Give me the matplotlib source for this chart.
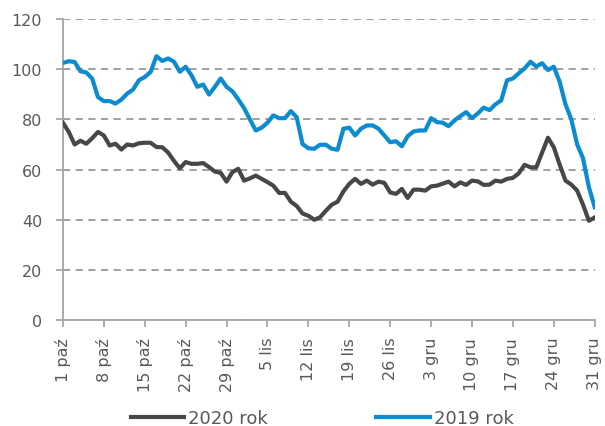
import numpy as np
import matplotlib
matplotlib.use('Agg')
import matplotlib.pyplot as plt

# daily values, 1 Oct .. 31 Dec
rok_2020 = [78.7, 75, 70, 71.5, 70.3, 72.5, 75, 73.6, 69.6, 70.3,
            68, 70, 69.6, 70.5, 70.7, 70.7, 69, 68.9, 66.8, 63.5,
            60.5, 63, 62.3, 62.3, 62.6, 61, 59.2, 58.7, 55.2, 59,
            60.3, 55.6, 56.5, 57.6, 56.3, 55, 53.6, 50.7, 50.7, 47.2,
            45.5, 42.5, 41.6, 40, 41, 43.6, 46, 47.2, 51.3, 54.3,
            56.3, 54.3, 55.6, 54, 55.2, 54.7, 50.9, 50.3, 52.3, 48.7,
            52, 52, 51.6, 53.3, 53.6, 54.4, 55.2, 53.3, 54.9, 53.9,
            55.6, 55.3, 53.9, 54, 55.6, 55.2, 56.3, 56.7, 58.5, 61.9,
            60.9, 60.9, 66.8, 72.7, 68.9, 62, 55.6, 54, 51.6, 46,
            39.6, 40.9]
rok_2019 = [102.5, 103.2, 102.9, 99.2, 98.7, 96.3, 88.9, 87.3, 87.3, 86.3,
            87.9, 90.3, 91.9, 95.6, 96.9, 98.9, 105.2, 103.3, 104.3, 103,
            99, 101, 97.6, 93, 93.9, 89.9, 93, 96.3, 93, 91.2,
            88, 84.5, 80, 75.6, 76.7, 78.7, 81.6, 80.5, 80.5, 83.3,
            80.9, 70.2, 68.5, 68.3, 69.9, 69.9, 68.3, 67.9, 76.3, 76.7,
            73.6, 76.3, 77.6, 77.6, 76.3, 73.6, 70.9, 71.3, 69.3, 73.3,
            75.2, 75.6, 75.6, 80.5, 78.9, 78.7, 77.3, 79.6, 81.3, 82.9,
            80.5, 82.4, 84.7, 83.7, 86, 87.6, 95.6, 96.3, 98.4, 100.3,
            103, 101.1, 102.4, 99.7, 101, 95, 86, 80, 70, 64.5,
            53, 45]
tick_labels = ['1 paź', '8 paź', '15 paź', '22 paź', '29 paź', '5 lis', '12 lis',
               '19 lis', '26 lis', '3 gru', '10 gru', '17 gru', '24 gru', '31 gru']

days = np.arange(len(rok_2020))
txt = '#595959'
axc = '#a6a6a6'

fig = plt.figure(figsize=(6.05, 4.27), dpi=100)
ax = fig.add_axes([0.104, 0.248, 0.879, 0.705])

ax.plot(days, rok_2020, color='#474747', linewidth=3, label='2020 rok', zorder=3)
ax.plot(days, rok_2019, color='#0b8bd0', linewidth=3, label='2019 rok', zorder=3)

ax.set_xlim(0, 91)
ax.set_ylim(0, 120)
ax.set_yticks(range(0, 121, 20))
ax.set_xticks(range(0, 92, 7))
ax.set_xticklabels(tick_labels, rotation=90)

ax.grid(axis='y', linestyle=(0, (4, 3)), color='#999999', linewidth=1.3)
ax.set_axisbelow(True)
for s in ['top', 'right']:
    ax.spines[s].set_visible(False)
for s in ['left', 'bottom']:
    ax.spines[s].set_color(axc)
    ax.spines[s].set_linewidth(1.3)
ax.tick_params(axis='both', colors=axc, length=5, width=1.3, labelcolor=txt, labelsize=11.5)
ax.tick_params(axis='y', pad=10)
ax.tick_params(axis='x', pad=7)

fig.legend(loc='center left', bbox_to_anchor=(131 / 605, 1 - 419 / 427), ncol=2, frameon=False,
           borderpad=0, borderaxespad=0,
           handlelength=2.95, handletextpad=0.22, columnspacing=6.0,
           prop={'size': 13}, labelcolor=txt)

fig.savefig('out.png', dpi=100)
